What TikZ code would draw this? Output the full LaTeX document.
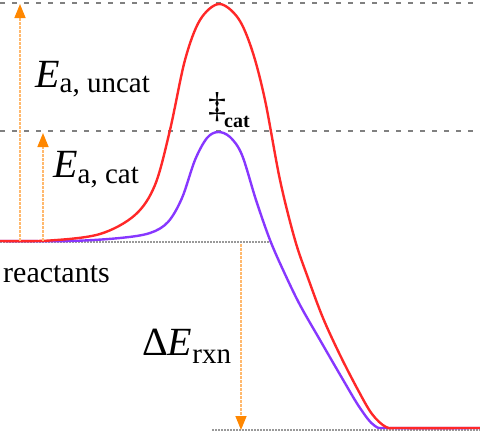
\documentclass[tikz,border=0pt]{standalone}
\usepackage{fontspec}
\setmainfont{Liberation Serif}
\newfontfamily\labelfont{Liberation Serif}
\usetikzlibrary{arrows.meta}
\definecolor{curvered}{RGB}{255,40,40}
\definecolor{curvepurple}{RGB}{135,55,255}
\definecolor{arrowline}{RGB}{255,185,110}
\definecolor{arrowhead}{RGB}{255,135,0}
\newcommand{\energylabel}[3]{#1\textit{E}\raisebox{#3}{\fontsize{29}{30}\selectfont #2}}

\begin{document}
\begin{tikzpicture}[x=1pt, y=-1pt, every node/.style={inner sep=0pt, font=\labelfont\fontsize{40}{44}\selectfont}]
\tikzstyle{level}=[draw=gray, line width=1.2pt, dash pattern=on 5pt off 7pt]
\tikzstyle{groundline}=[draw=gray!80, line width=1.2pt, dash pattern=on 2pt off 1pt]
\tikzstyle{barrier}=[line width=2.4pt, line cap=round, line join=round]
\tikzstyle{gap}=[draw=arrowline, line width=1.5pt, dash pattern=on 3pt off 1pt, -{Triangle[length=14pt, width=11pt, color=arrowhead]}]
\useasboundingbox (0,0) rectangle (480,434);
% energy levels
\coordinate (uncatL) at (0,3);   \coordinate (uncatR) at (480,3);
\coordinate (catL) at (0,131);   \coordinate (catR) at (480,131);
\coordinate (reacL) at (0,242);  \coordinate (reacR) at (270,242);
\coordinate (prodL) at (212,430); \coordinate (prodR) at (480,430);
\draw[level] (uncatL) -- (uncatR);
\draw[level] (catL) -- (catR);
\draw[groundline] (reacL) -- (reacR);
\draw[groundline] (prodL) -- (prodR);
% reaction paths
\draw[barrier, curvepurple] plot[smooth, tension=0.55] coordinates {(0,241) (70,241) (120,238) (150,233) (168,222) (182,198) (195,160) (207,138) (218,132) (230,137) (242,155) (256,200) (270,240) (284,272) (300,305) (320,340) (342,378) (360,408) (375,426) (392,428) (480,428)};
\draw[barrier, curvered] plot[smooth, tension=0.55] coordinates {(0,241) (50,240.5) (100,234) (135,215) (155,185) (170,130) (185,60) (200,20) (219,4) (238,18) (252,50) (265,100) (280,180) (295,240) (308,278) (323,318) (340,355) (358,390) (372,414) (386,427) (400,428) (480,428)};
% barrier arrows
\coordinate (uncatFoot) at (20,241); \coordinate (uncatTip) at (20,4);
\coordinate (catFoot) at (43,241);   \coordinate (catTip) at (43,133);
\coordinate (rxnFoot) at (241,244);  \coordinate (rxnTip) at (241,430);
\draw[gap] (uncatFoot) -- (uncatTip);
\draw[gap] (catFoot) -- (catTip);
\draw[gap] (rxnFoot) -- (rxnTip);
% labels
\node[anchor=base west] (uncat) at (35,87) {\energylabel{}{a, uncat}{-5pt}};
\node[anchor=base west] (cat) at (53,177) {\energylabel{}{a, cat}{-6pt}};
\node[anchor=base west] (rxn) at (142,355) {\energylabel{Δ}{rxn}{-8pt}};
\node[anchor=base west, font=\labelfont\fontsize{30}{32}\selectfont] (reac) at (3,282) {reactants};
\node[anchor=base west, font=\labelfont\fontsize{36}{38}\selectfont] (ts) at (208,117) {‡};
\node[anchor=base west, font=\labelfont\fontsize{20}{22}\selectfont\bfseries] (tssub) at (224,127) {cat};
\end{tikzpicture}
\end{document}
